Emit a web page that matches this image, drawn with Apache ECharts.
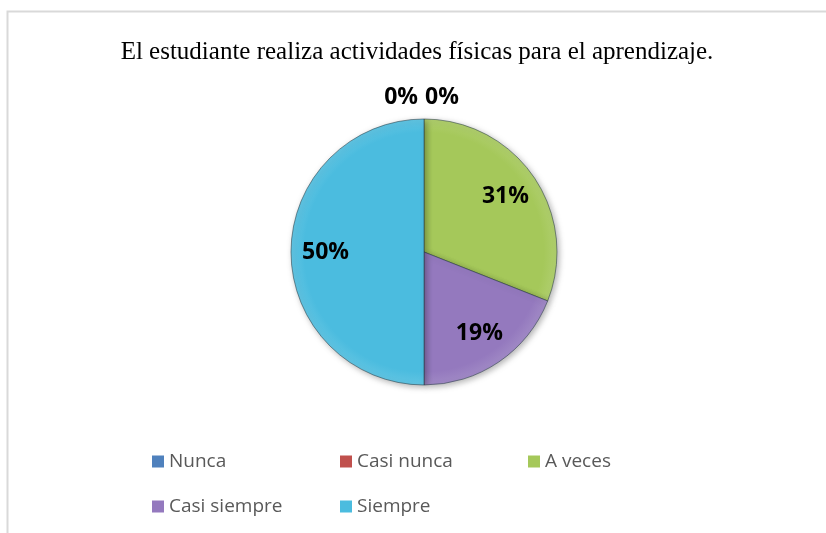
<!DOCTYPE html>
<html>
<head>
<meta charset="utf-8">
<script src="https://cdn.jsdelivr.net/npm/echarts@6/dist/echarts.min.js"></script>
<style>
html,body{margin:0;padding:0;background:#fff;}
#chart{width:826px;height:533px;}
</style>
</head>
<body>
<div id="chart"></div>
<script>
const titleText = 'El estudiante realiza actividades físicas para el aprendizaje.';
const categories = ['Nunca', 'Casi nunca', 'A veces', 'Casi siempre', 'Siempre'];
const percentages = [0, 0, 31, 19, 50];
const colors = ['#4F81BD', '#C0504D', '#A5C85A', '#9479BE', '#4BBCDF'];

const CX = 424, CY = 252, R = 133;

function sliceColor(c) {
  return {
    type: 'radial', x: CX, y: CY, r: R, global: true,
    colorStops: [
      { offset: 0, color: c },
      { offset: 0.9, color: c },
      { offset: 1, color: echarts.color.lift(c, 0.12) }
    ]
  };
}

const mainData = categories.map((name, i) => ({
  name: name,
  value: percentages[i],
  itemStyle: { color: sliceColor(colors[i]) }
}));

const legendData = categories.map((name, i) => ({
  name: name,
  itemStyle: { color: colors[i] }
}));

const labelData = categories.map((name, i) => ({
  name: name,
  value: percentages[i],
  label: percentages[i] === 0
    ? { position: 'outside' }
    : { position: 'inside' }
}));

const chart = echarts.init(document.getElementById('chart'), null, { renderer: 'canvas' });
chart.setOption({
  animation: false,
  color: colors,
  title: {
    text: titleText,
    left: 412,
    top: 35,
    textAlign: 'center',
    textStyle: { fontFamily: 'Liberation Serif', fontSize: 25, fontWeight: 'normal', color: '#000' }
  },
  graphic: [{
    type: 'rect', silent: true, z: -10,
    shape: { x: 7.5, y: 11.5, width: 900, height: 600 },
    style: { fill: 'none', stroke: '#d9d9d9', lineWidth: 2 }
  }],
  legend: {
    data: legendData,
    left: 152,
    top: 444,
    width: 600,
    padding: 0,
    itemGap: 10,
    itemWidth: 12,
    itemHeight: 12,
    icon: 'rect',
    itemStyle: { borderWidth: 0, shadowBlur: 0 },
    textStyle: { fontFamily: 'Open Sans', fontSize: 19, color: '#595959', width: 161, lineHeight: 35 }
  },
  series: [
    {
      type: 'pie',
      center: [CX, CY],
      radius: [0, R],
      startAngle: 90,
      clockwise: true,
      silent: true,
      avoidLabelOverlap: false,
      label: { show: false },
      labelLine: { show: false },
      itemStyle: {
        borderColor: 'rgba(40,60,70,0.55)', borderWidth: 1,
        shadowBlur: 6, shadowOffsetX: 2, shadowOffsetY: 2, shadowColor: 'rgba(0,0,0,0.3)'
      },
      data: mainData
    },
    {
      type: 'pie',
      center: [CX, CY],
      radius: [58, R],
      startAngle: 90,
      clockwise: true,
      silent: true,
      avoidLabelOverlap: false,
      legendHoverLink: false,
      itemStyle: { color: 'rgba(0,0,0,0)', borderWidth: 0 },
      label: {
        show: true,
        formatter: '{c}%',
        fontFamily: 'Open Sans',
        fontWeight: 'bold',
        fontSize: 23,
        color: '#000'
      },
      labelLine: { show: false, length: 22, length2: 0 },
      labelLayout: function (params) {
        if (params.dataIndex === 0) return { align: 'right', dx: -1 };
        if (params.dataIndex === 1) return { align: 'left', dx: 6 };
        return {};
      },
      data: labelData
    }
  ]
});
</script>
</body>
</html>
